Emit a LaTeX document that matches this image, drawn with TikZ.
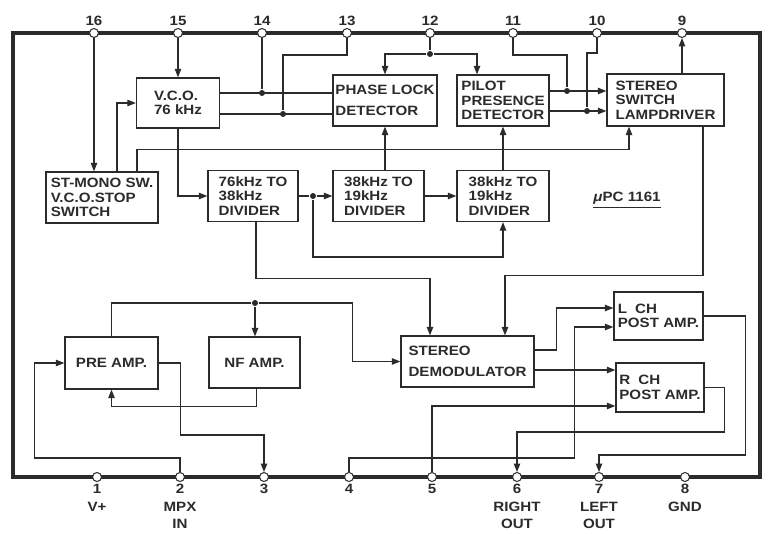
\documentclass[tikz,border=0pt]{standalone}
\usepackage{fontspec}
\setmainfont{Liberation Sans}[FakeStretch=1.12]
\usetikzlibrary{arrows.meta}
\definecolor{ink}{HTML}{2B2B2B}
\newcommand\bxfont{\fontsize{13.5}{14.5}\selectfont\bfseries}
\newcommand\lbfont{\fontsize{13.5}{17.5}\selectfont\bfseries}
\begin{document}
\begin{tikzpicture}[x=1pt,y=-1pt,color=ink,line width=1.1pt,
  box/.style n args={2}{draw=ink, line width=1.3pt, align=left, inner sep=0pt,
     font=\bxfont, text=ink, minimum width=#1pt, minimum height=#2pt},
  arr/.style={-{Triangle[length=8.5pt,width=6.5pt]}},
  pinc/.style={circle, draw=ink, fill=white, line width=1pt, minimum size=9pt, inner sep=0pt},
  dotn/.style={circle, fill=ink, minimum size=6pt, inner sep=0pt},
  lbl/.style={font=\lbfont, text=ink, align=center, inner sep=0pt}]
\fill[white] (0,0) rectangle (770,534);
\useasboundingbox (0,0) rectangle (770,534);
% package outline
\draw[line width=4.5pt] (13,33) rectangle (760,477);
% pins
\foreach \n/\x in {16/94,15/178,14/262,13/347,12/430,11/513,10/597,9/682}{
  \node[pinc] (p\n) at (\x,33) {};
  \node[lbl] (l\n) at (\x,21) {\n};
}
\foreach \n/\x in {1/97,2/180,3/264,4/349,5/432,6/517,7/599,8/685}{
  \node[pinc] (p\n) at (\x,477) {};
}
\node[lbl,anchor=north] (l1) at (97,484) {1\\V+};
\node[lbl,anchor=north] (l2) at (180,484) {2\\MPX\\IN};
\node[lbl,anchor=north] (l3) at (264,484) {3};
\node[lbl,anchor=north] (l4) at (349,484) {4};
\node[lbl,anchor=north] (l5) at (432,484) {5};
\node[lbl,anchor=north] (l6) at (517,484) {6\\RIGHT\\OUT};
\node[lbl,anchor=north] (l7) at (599,484) {7\\LEFT\\OUT};
\node[lbl,anchor=north] (l8) at (685,484) {8\\GND};
% blocks
\node[box={83}{50}] (vco) at (178,103) {V.C.O.\\76 kHz};
\node[box={104}{51}] (pll) at (385,100.5) {PHASE LOCK\\[6pt]DETECTOR};
\node[box={92}{51}] (pilot) at (503,100.5) {PILOT\\PRESENCE\\DETECTOR};
\node[box={117}{52}] (sw) at (665.5,100) {STEREO\\SWITCH\\LAMPDRIVER};
\node[box={112}{51}] (stmono) at (102,197.5) {ST-MONO SW.\\V.C.O.STOP\\SWITCH};
\node[box={90}{51}] (div1) at (253,196) {76kHz TO\\38kHz\\DIVIDER};
\node[box={91}{51}] (div2) at (378.5,196) {38kHz TO\\19kHz\\DIVIDER};
\node[box={92}{51}] (div3) at (503,196) {38kHz TO\\19kHz\\DIVIDER};
\node[box={93}{52}] (pre) at (111.5,363) {PRE AMP.};
\node[box={91}{51}] (nf) at (254.5,362.5) {NF AMP.};
\node[box={133}{51}] (demod) at (467.5,361.5) {STEREO\\[6pt]DEMODULATOR};
\node[box={89}{48}] (lch) at (658.5,316) {L\hspace{0.6em}CH\\POST AMP.};
\node[box={88}{49}] (rch) at (660,387.5) {R\hspace{0.6em}CH\\POST AMP.};
\node[lbl,inner sep=0pt] (chip) at (627,198) {\textit{μ}PC 1161};
\draw[line width=1.3pt] ([yshift=-3pt]chip.south west) -- ([yshift=-3pt]chip.south east);
% upper connectors
\draw[arr] (p16) -- (p16 |- stmono.north);
\draw[arr] ([xshift=15pt]stmono.north) |- (vco.west);
\draw[arr] ([xshift=35pt]stmono.north) -- ++(0,-22) -| ([xshift=-36.5pt]sw.south);
\draw[arr] (p15) -- (vco.north);
\draw[arr] (vco.south) |- (div1.west);
\coordinate (va) at ([yshift=10pt]vco.east);
\coordinate (vb) at ([yshift=-11pt]vco.east);
\draw (va) -- (va -| pll.west);
\draw (vb) -- (vb -| pll.west);
\node[dotn] (d14) at (p14 |- va) {};
\draw (p14) -- (d14);
\node[dotn] (d13) at (283,0 |- vb) {};
\draw (p13) -- ++(0,22) -| (d13);
\node[dotn] (d12) at (p12 |- 0,54) {};
\draw (p12) -- (d12);
\draw[arr] (d12) -| (pll.north);
\draw[arr] (d12) -| ([xshift=-26pt]pilot.north);
\coordinate (pa) at ([yshift=9.5pt]pilot.east);
\coordinate (pb) at ([yshift=-10.5pt]pilot.east);
\draw[arr] (pa) -- (pa -| sw.west);
\draw[arr] (pb) -- (pb -| sw.west);
\node[dotn] (d11) at (567,0 |- pa) {};
\node[dotn] (d10) at (587,0 |- pb) {};
\draw (p11) -- ++(0,22) -| (d11);
\draw (p10) -- ++(0,20) -| (d10);
\draw[arr] (sw.north -| p9) -- (p9);
\draw[arr] ([xshift=37.5pt]sw.south) -- ++(0,149) -| ([xshift=37.5pt]demod.north);
\draw[arr] (pll.south |- div2.north) -- (pll.south);
\draw[arr] (div3.north) -- (pilot.south);
\node[dotn] (d1) at (313,0 |- div1.east) {};
\draw (div1.east) -- (d1);
\draw[arr] (d1) -- (div2.west);
\draw[arr] (d1) -- ++(0,61) -| (div3.south);
\draw[arr] (div2.east) -- (div3.west);
\draw[arr] ([xshift=3pt]div1.south) -- ++(0,56) -| ([xshift=-37.5pt]demod.north);
% lower connectors
\node[dotn] (d2) at (255,303) {};
\draw (pre.north) |- (d2);
\draw[arr] (d2) -- (d2 |- nf.north);
\draw[arr] (d2) -| ([xshift=-48pt]demod.west) -- (demod.west);
\draw[arr] (p2) -- (p2 |- 0,458) -| ([xshift=-30pt]pre.west) -- (pre.west);
\draw[arr] (pre.east) -- ++(22,0) |- (p3 |- 0,435) -- (p3);
\draw[arr] ([xshift=2pt]nf.south) -- ++(0,18) -| (pre.south);
\draw[arr] ([yshift=11.5pt]demod.east) -- ++(22,0) |- ([yshift=8pt]lch.west);
\coordinate (da) at ([yshift=-8.5pt]demod.east);
\draw[arr] (da) -- (da -| rch.west);
\draw[arr] (p4) -- (p4 |- 0,458) -| ([xshift=-39pt,yshift=-11pt]lch.west) -- ([yshift=-11pt]lch.west);
\draw[arr] (p5) |- ([yshift=-18.5pt]rch.west);
\draw[arr] (rch.east) -- ++(20,0) |- (p6 |- 0,432) -- (p6);
\draw[arr] (lch.east) -- ++(42,0) |- (p7 |- 0,455) -- (p7);
\end{tikzpicture}
\end{document}
